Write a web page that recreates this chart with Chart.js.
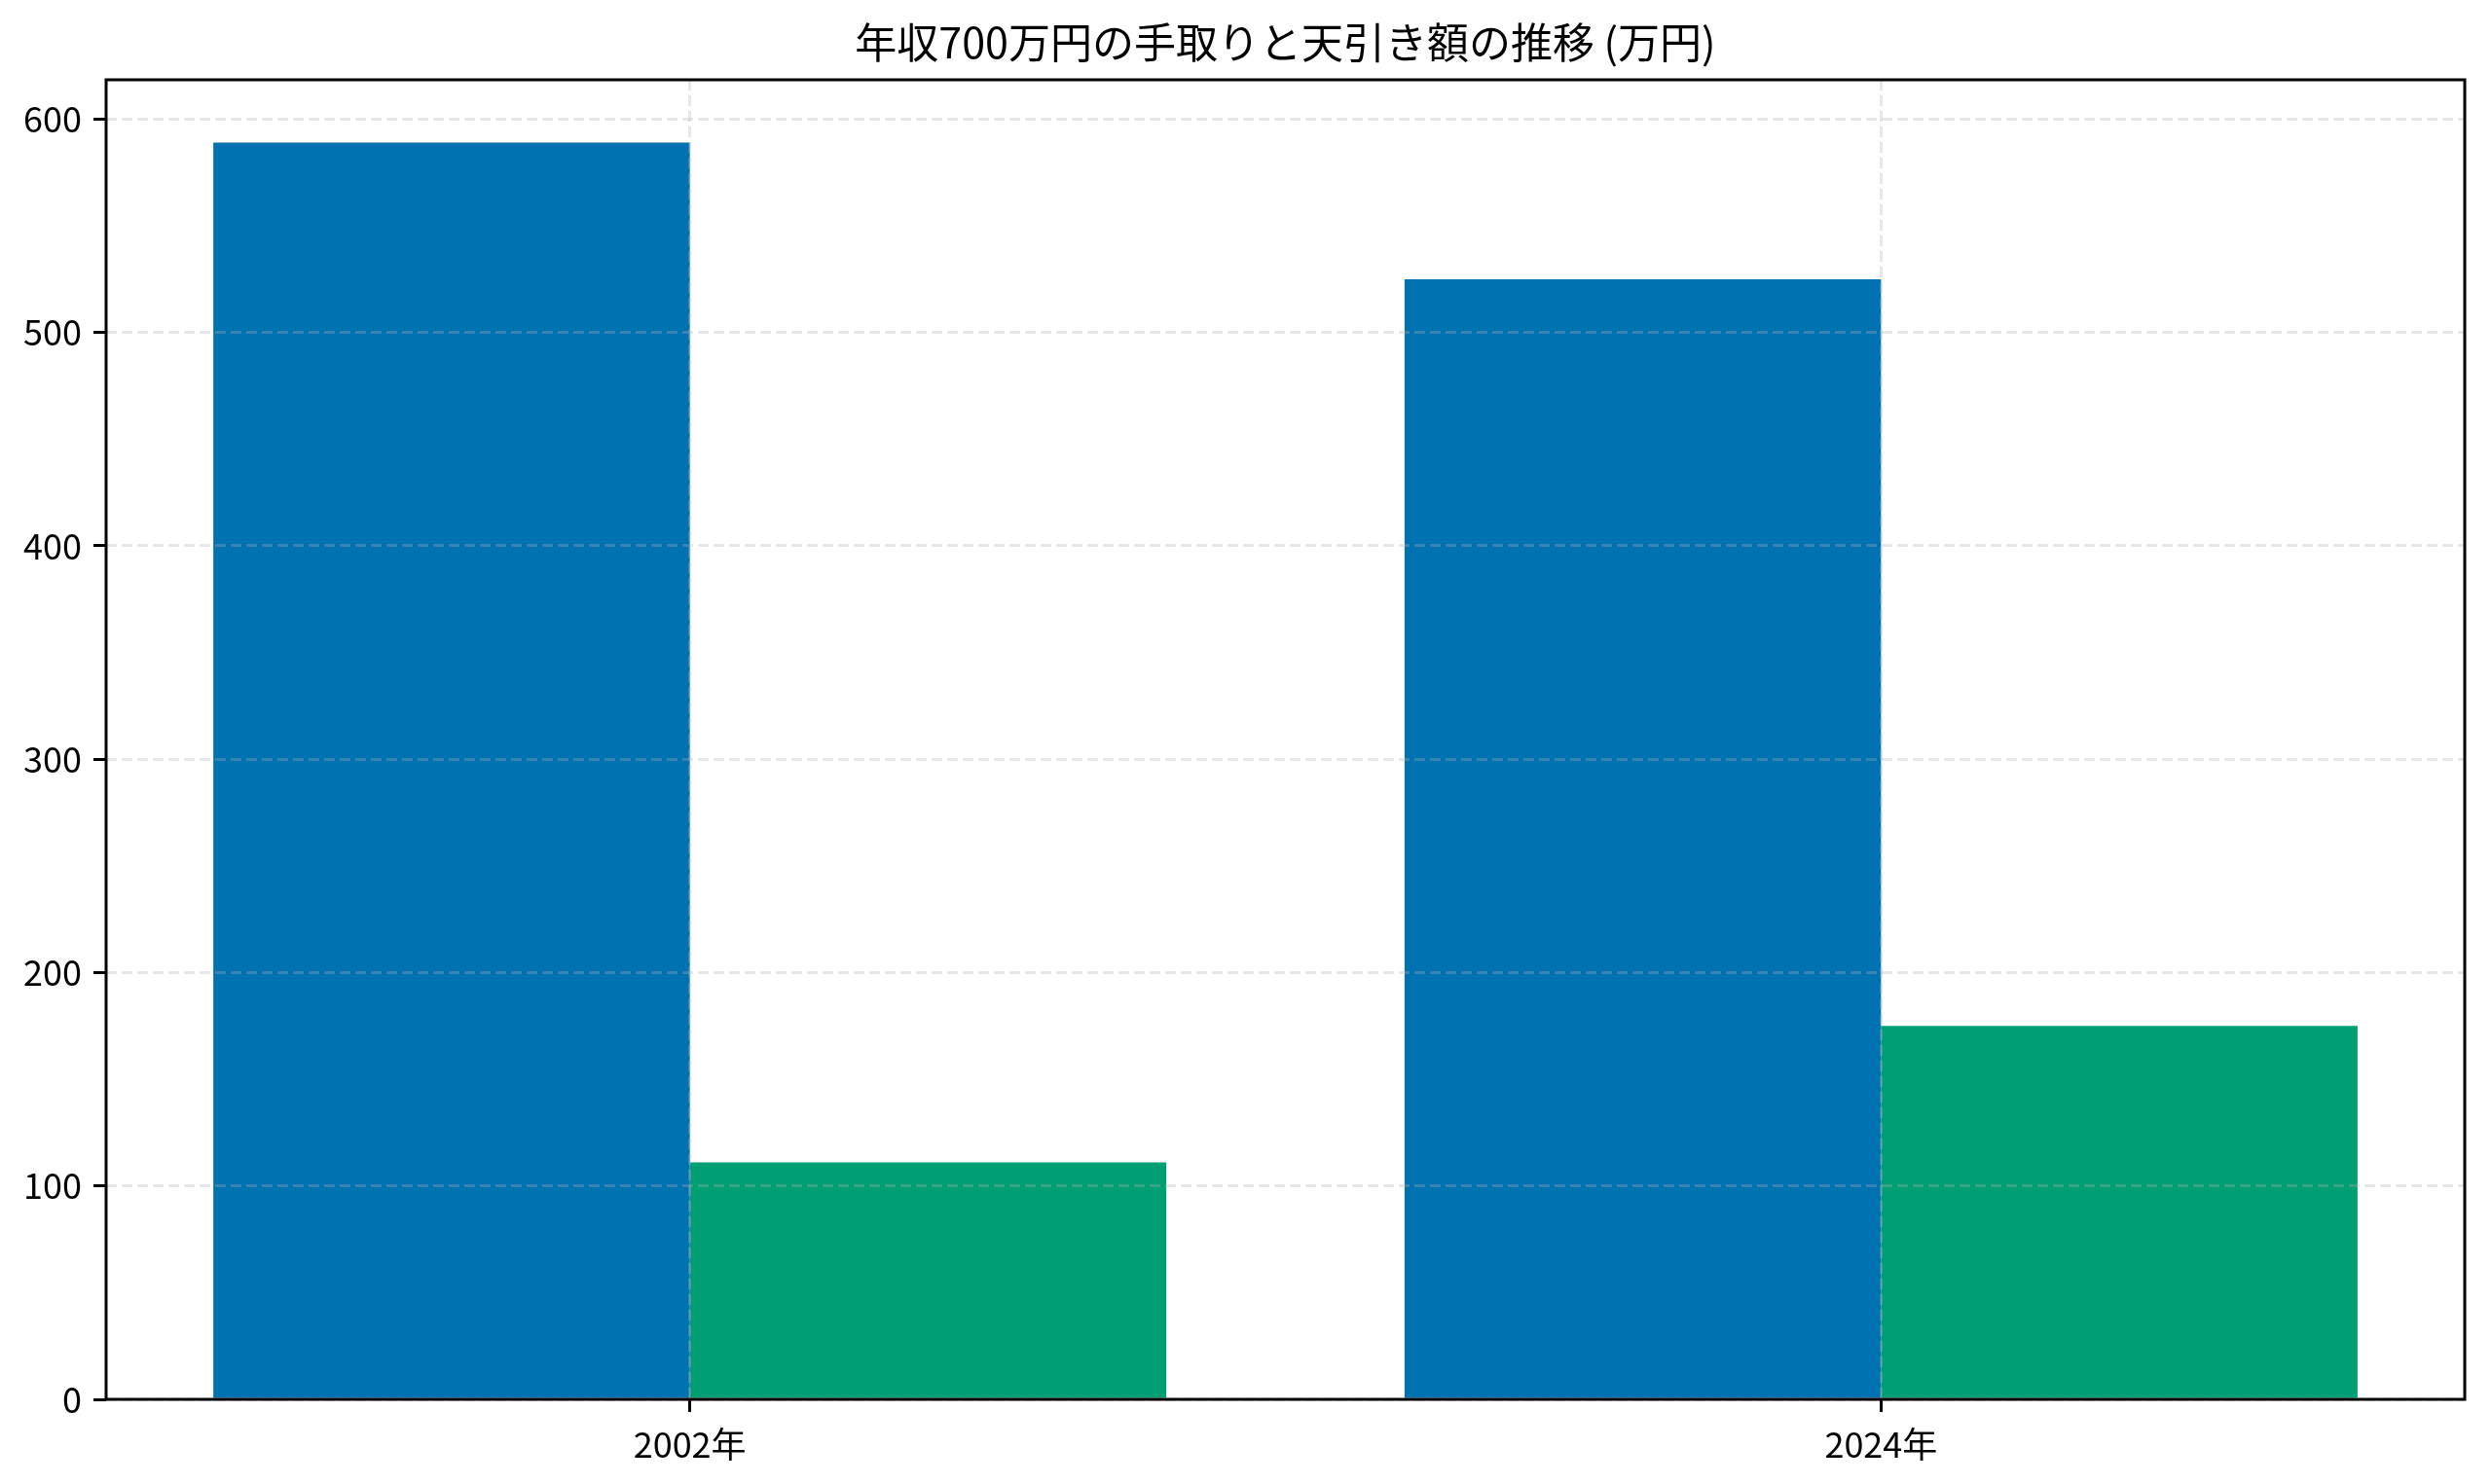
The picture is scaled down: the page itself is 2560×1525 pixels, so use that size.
<!DOCTYPE html>
<html>
<head>
<meta charset="utf-8">
<script src="https://cdn.jsdelivr.net/npm/chart.js@4"></script>
<style>
  html, body { margin: 0; padding: 0; background: #fff; }
</style>
</head>
<body>
<canvas id="myChart" width="2560" height="1525"></canvas>
<script>
// data (万円)
var years = ['2002年', '2024年'];
var takeHome = [589, 525];
var deductions = [111, 175];
var yTicks = [0, 100, 200, 300, 400, 500, 600];
var xTicks = [0, 1];
var titleText = '年収700万円の手取りと天引き額の推移 (万円)';

var fontFamily = '"Noto Sans CJK JP", "Noto Sans", sans-serif';

// full box around the plot, like matplotlib spines, plus a title centred on the plot
var frame = {
    id: 'frame',
    afterDraw: function (chart) {
        var a = chart.chartArea;
        var c = chart.ctx;
        c.save();
        c.strokeStyle = '#000';
        c.lineWidth = 3;
        c.strokeRect(a.left, a.top, a.right - a.left, a.bottom - a.top);
        c.fillStyle = '#000';
        c.font = '43px ' + fontFamily;
        c.textAlign = 'center';
        c.textBaseline = 'middle';
        c.fillText(titleText, (a.left + a.right) / 2, a.top - 38);
        c.restore();
    }
};

function gridStyle() {
    return {
        color: 'rgba(176, 176, 176, 0.3)',
        lineWidth: 3,
        offset: false,
        z: 1,
        tickColor: '#000',
        tickWidth: 3,
        tickLength: 13,
        tickBorderDash: []
    };
}

var ctx = document.getElementById('myChart').getContext('2d');
var myChart = new Chart(ctx, {
    type: 'bar',
    data: {
        datasets: [{
            label: '手取り',
            data: xTicks.map(function (x, i) { return { x: x, y: takeHome[i] }; }),
            backgroundColor: '#0072B2',
            borderWidth: 0
        }, {
            label: '天引き額',
            data: xTicks.map(function (x, i) { return { x: x, y: deductions[i] }; }),
            backgroundColor: '#009E73',
            borderWidth: 0
        }]
    },
    options: {
        responsive: false,
        devicePixelRatio: 1,
        animation: false,
        categoryPercentage: 0.8,
        barPercentage: 1,
        layout: {
            padding: { left: 0, right: 28, top: 82, bottom: 0 }
        },
        plugins: {
            legend: { display: false },
            tooltip: { enabled: false },
            title: { display: false }
        },
        scales: {
            x: {
                type: 'linear',
                offset: false,
                min: -0.49,
                max: 1.49,
                afterBuildTicks: function (scale) {
                    scale.ticks = xTicks.map(function (v) { return { value: v }; });
                },
                afterFit: function (scale) { scale.height = 87; },
                ticks: {
                    color: '#000',
                    padding: 12,
                    maxRotation: 0,
                    font: { family: fontFamily, size: 36 },
                    callback: function (v) { return years[Math.round(v)]; }
                },
                grid: gridStyle(),
                border: { display: false, dash: [11, 5] }
            },
            y: {
                min: 0,
                max: 618.45,
                afterBuildTicks: function (scale) {
                    scale.ticks = yTicks.map(function (v) { return { value: v }; });
                },
                afterFit: function (scale) { scale.width = 109; },
                ticks: {
                    color: '#000',
                    padding: 12,
                    font: { family: fontFamily, size: 36 }
                },
                grid: gridStyle(),
                border: { display: false, dash: [11, 5] }
            }
        }
    },
    plugins: [frame]
});
</script>
</body>
</html>
